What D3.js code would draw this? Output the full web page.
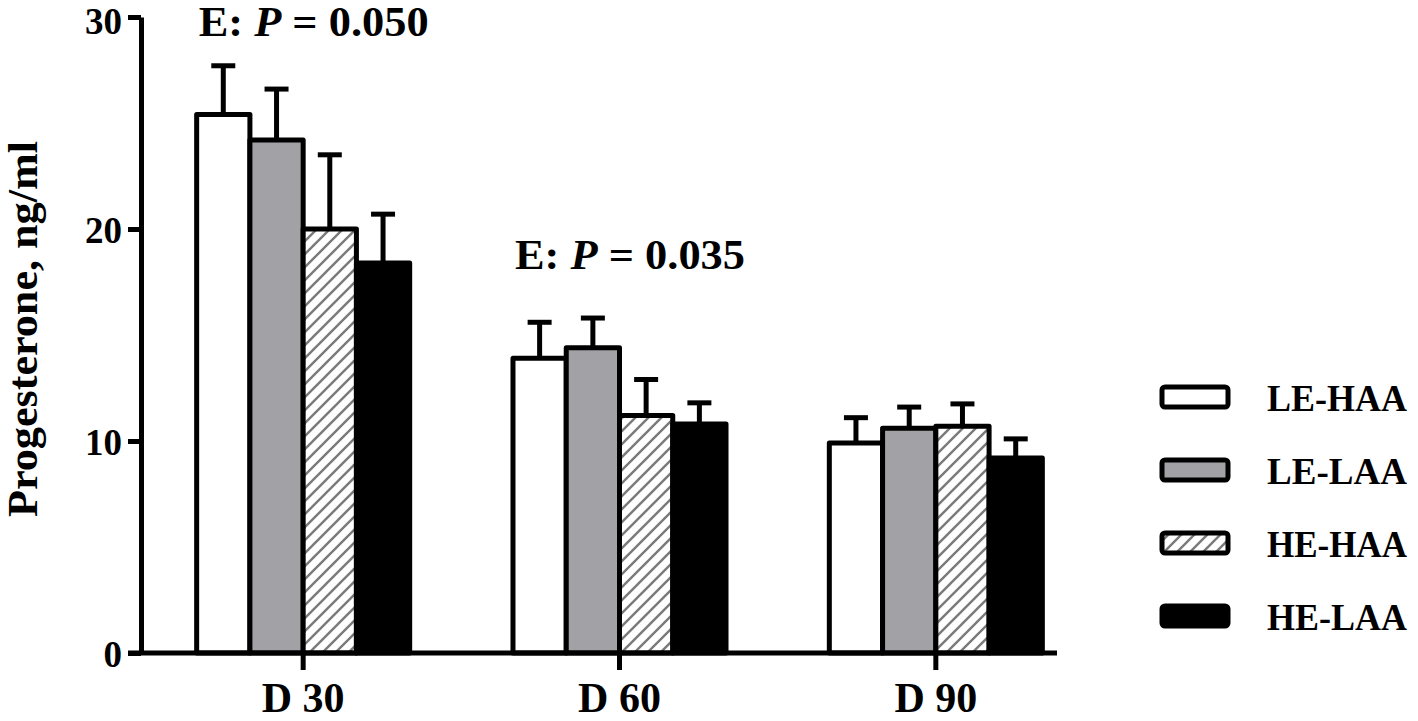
<!DOCTYPE html>
<html>
<head>
<meta charset="utf-8">
<script src="https://cdn.jsdelivr.net/npm/d3@7"></script>
<style>
  body { margin: 0; background: #fff; }
  text { font-family: "Liberation Serif", "Times New Roman", serif; font-weight: bold; fill: #000; }
</style>
</head>
<body>
<svg id="chart"></svg>
<script>
const days = ["D 30", "D 60", "D 90"];
const groups = ["LE-HAA", "LE-LAA", "HE-HAA", "HE-LAA"];
// mean per group, one array per day
const meanD30 = [25.4, 24.2, 20.0, 18.4];
const meanD60 = [13.9, 14.4, 11.2, 10.8];
const meanD90 = [9.9, 10.6, 10.7, 9.2];
// upper error bar (SEM)
const semD30 = [2.3, 2.4, 3.5, 2.3];
const semD60 = [1.7, 1.4, 1.7, 1.0];
const semD90 = [1.2, 1.0, 1.05, 0.9];
const yTicks = [0, 10, 20, 30];
const notes = [{day: "D 30", y: 30, label: "0.050"}, {day: "D 60", y: 19, label: "0.035"}];

const means = [meanD30, meanD60, meanD90];
const sems = [semD30, semD60, semD90];
const data = [];
days.forEach((d, i) => {
  groups.forEach((g, j) => {
    data.push({day: d, group: g, value: means[i][j], sem: sems[i][j]});
  });
});

const width = 1418, height = 721;
const svg = d3.select('#chart')
  .attr('width', width)
  .attr('height', height)
  .attr('viewBox', `0 0 ${width} ${height}`);

const defs = svg.append('defs');
const pat = defs.append('pattern')
  .attr('id', 'hatch')
  .attr('patternUnits', 'userSpaceOnUse')
  .attr('width', 13)
  .attr('height', 13);
pat.append('rect').attr('width', 13).attr('height', 13).attr('fill', '#fff');
pat.append('path')
  .attr('d', 'M-3,3 L3,-3 M0,13 L13,0 M10,16 L16,10')
  .attr('stroke', '#7a7a7a')
  .attr('stroke-width', 2.4);

const fills = d3.scaleOrdinal()
  .domain(groups)
  .range(['#ffffff', '#a2a2a6', 'url(#hatch)', '#000000']);

const x = d3.scaleBand()
  .domain(days)
  .range([145, 1094]);

const xSub = d3.scaleBand()
  .domain(groups)
  .range([0, x.bandwidth()])
  .paddingOuter(0.97);

const y = d3.scaleLinear()
  .domain([0, 30])
  .range([653, 17]);

const lw = 5;

// bars
const bars = svg.append('g');
bars.selectAll('rect')
  .data(data)
  .enter()
  .append('rect')
  .attr('x', d => x(d.day) + xSub(d.group))
  .attr('y', d => y(d.value))
  .attr('width', xSub.bandwidth())
  .attr('height', d => y(0) - y(d.value))
  .attr('fill', d => fills(d.group))
  .attr('stroke', '#000')
  .attr('stroke-width', lw)
  .attr('stroke-linejoin', 'round');

// error bars, upper only
const errs = svg.append('g')
  .attr('stroke', '#000')
  .attr('stroke-width', lw);
errs.selectAll('.stem')
  .data(data)
  .enter()
  .append('line')
  .attr('x1', d => x(d.day) + xSub(d.group) + xSub.bandwidth() / 2)
  .attr('x2', d => x(d.day) + xSub(d.group) + xSub.bandwidth() / 2)
  .attr('y1', d => y(d.value))
  .attr('y2', d => y(d.value + d.sem));
errs.selectAll('.cap')
  .data(data)
  .enter()
  .append('line')
  .attr('x1', d => x(d.day) + xSub(d.group) + xSub.bandwidth() / 2 - 12)
  .attr('x2', d => x(d.day) + xSub(d.group) + xSub.bandwidth() / 2 + 12)
  .attr('y1', d => y(d.value + d.sem))
  .attr('y2', d => y(d.value + d.sem));

// y axis
const yAxis = svg.append('g')
  .attr('transform', 'translate(141,0)')
  .call(d3.axisLeft(y).tickValues(yTicks).tickSize(13).tickPadding(6).tickSizeOuter(0));
yAxis.select('.domain').attr('stroke-width', lw);
yAxis.selectAll('line').attr('stroke-width', lw);
yAxis.selectAll('text')
  .attr('font-family', '"Liberation Serif", serif')
  .attr('font-size', 37)
  .attr('dy', d => d === 30 ? '0.45em' : '0.36em');

// x axis
const xAxis = svg.append('g')
  .attr('transform', `translate(0,${y(0)})`)
  .call(d3.axisBottom(x).tickSize(17).tickPadding(12).tickSizeOuter(0));
xAxis.select('.domain').remove();
xAxis.selectAll('line').attr('stroke-width', lw);
xAxis.selectAll('text')
  .attr('font-family', '"Liberation Serif", serif')
  .attr('font-size', 42)
  .attr('dy', '0.71em');
xAxis.append('line')
  .attr('x1', 128)
  .attr('x2', 1057)
  .attr('stroke', '#000')
  .attr('stroke-width', lw);

// y title
svg.append('text')
  .attr('transform', `translate(37,${(y(0) + y(30)) / 2 - 6}) rotate(-90)`)
  .attr('text-anchor', 'middle')
  .attr('font-size', 42)
  .attr('textLength', 376)
  .attr('lengthAdjust', 'spacingAndGlyphs')
  .text('Progesterone, ng/ml');

// annotations
const ann = svg.selectAll('.note')
  .data(notes)
  .enter()
  .append('text')
  .attr('class', 'note')
  .attr('x', d => x(d.day) + xSub(groups[0]) + 2)
  .attr('y', d => y(d.y) + 19)
  .attr('font-size', 42)
  .attr('textLength', 230)
  .attr('lengthAdjust', 'spacingAndGlyphs');
ann.append('tspan').text('E: ');
ann.append('tspan').attr('font-style', 'italic').text('P');
ann.append('tspan').text(d => ' = ' + d.label);

// legend
const legend = svg.append('g')
  .selectAll('g')
  .data(groups)
  .enter()
  .append('g')
  .attr('transform', (d, i) => `translate(1160,${397 + i * 73})`);
legend.append('rect')
  .attr('x', 2)
  .attr('y', -10)
  .attr('width', 66)
  .attr('height', 20)
  .attr('rx', 3)
  .attr('fill', d => fills(d))
  .attr('stroke', '#000')
  .attr('stroke-width', lw);
legend.append('text')
  .attr('x', 107)
  .attr('y', 14)
  .attr('font-size', 37)
  .attr('textLength', 140)
  .attr('lengthAdjust', 'spacingAndGlyphs')
  .text(d => d);
</script>
</body>
</html>
